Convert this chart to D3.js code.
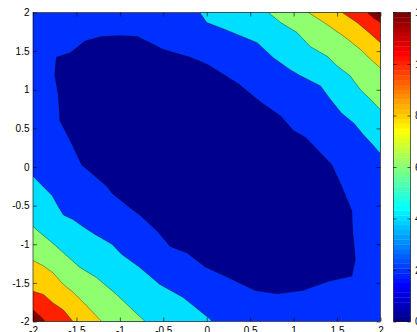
<!DOCTYPE html>
<html>
<head>
<meta charset="utf-8">
<script src="https://cdn.jsdelivr.net/npm/d3@7"></script>
<style>
    body { margin: 0; background: #fff; }
    svg { display: block; font-family: "Liberation Sans", Arial, Helvetica, sans-serif; }
    .axis text { font-size: 10px; fill: #000; }
    .axis line { stroke: #000; stroke-width: 0.6; }
    .axis path { display: none; }
</style>
</head>
<body>
<svg id="chart" width="417" height="332"></svg>
<script>
(function() {

    //  Tick values
    var xTicks = [-2, -1.5, -1, -0.5, 0, 0.5, 1, 1.5, 2];
    var yTicks = [-2, -1.5, -1, -0.5, 0, 0.5, 1, 1.5, 2];
    var cbTicks = [0, 2, 4, 6, 8, 10, 12];

    //  Contour levels
    var levels = [0, 2, 4, 6, 8, 10, 12];

    //  Contour lines, [x, y] points
    //  level 2 is a closed loop round the minimum
    var core2 = [[-1.73, 1.42], [-1.57, 1.48], [-1.40, 1.63], [-1.21, 1.69], [-1.00, 1.70], [-0.80, 1.69],
        [-0.50, 1.52], [-0.19, 1.42], [0.02, 1.32], [0.37, 1.07], [0.62, 0.84], [0.85, 0.66], [1.00, 0.47],
        [1.14, 0.38], [1.44, 0.03], [1.56, -0.27], [1.67, -0.57], [1.68, -0.83], [1.71, -1.20], [1.67, -1.41],
        [1.40, -1.48], [1.10, -1.60], [0.81, -1.64], [0.56, -1.60], [0.21, -1.41], [-0.02, -1.29], [-0.23, -1.11],
        [-0.42, -1.03], [-0.57, -0.83], [-0.77, -0.62], [-0.88, -0.53], [-1.09, -0.34], [-1.15, -0.25],
        [-1.44, 0.03], [-1.57, 0.34], [-1.69, 0.60], [-1.71, 0.94], [-1.75, 1.20]];

    //  upper right corner, top edge to right edge
    var ur4 = [[-0.08, 2.0], [0.00, 1.87], [0.21, 1.78], [0.58, 1.61], [0.77, 1.41], [0.96, 1.26], [1.08, 1.18],
        [1.31, 1.05], [1.42, 0.88], [1.55, 0.70], [1.70, 0.56], [1.80, 0.42], [1.90, 0.30], [2.0, 0.17]];
    var ur6 = [[0.71, 2.0], [0.85, 1.87], [1.04, 1.74], [1.19, 1.56], [1.39, 1.43], [1.50, 1.31], [1.65, 1.18],
        [1.77, 1.00], [1.89, 0.87], [2.0, 0.74]];
    var ur8 = [[1.17, 2.0], [1.35, 1.87], [1.58, 1.69], [1.77, 1.52], [1.89, 1.39], [2.0, 1.28]];
    var ur10 = [[1.56, 2.0], [1.73, 1.87], [1.89, 1.72], [2.0, 1.61]];
    var ur12 = [[1.85, 2.0], [1.92, 1.93], [2.0, 1.87]];

    //  lower left corner, left edge to bottom edge
    var ll4 = [[-2.0, -0.12], [-1.78, -0.37], [-1.69, -0.55], [-1.65, -0.62], [-1.54, -0.68], [-1.40, -0.79],
        [-1.29, -0.87], [-1.09, -1.00], [-0.98, -1.13], [-0.77, -1.30], [-0.54, -1.52], [-0.27, -1.69],
        [0.04, -1.97], [0.06, -2.0]];
    var ll6 = [[-2.0, -0.77], [-1.92, -0.85], [-1.80, -0.96], [-1.65, -1.11], [-1.46, -1.30], [-1.27, -1.43],
        [-1.04, -1.65], [-0.88, -1.82], [-0.71, -2.0]];
    var ll8 = [[-2.0, -1.21], [-1.88, -1.28], [-1.77, -1.37], [-1.65, -1.52], [-1.54, -1.62], [-1.38, -1.80],
        [-1.21, -2.0]];
    var ll10 = [[-2.0, -1.61], [-1.88, -1.65], [-1.77, -1.76], [-1.65, -1.85], [-1.54, -2.0]];
    var ll12 = [[-2.0, -1.85], [-1.90, -1.95], [-1.86, -2.0]];

    var upper = { 4: ur4, 6: ur6, 8: ur8, 10: ur10, 12: ur12 };
    var lower = { 4: ll4, 6: ll6, 8: ll8, 10: ll10, 12: ll12 };

    //  MATLAB jet(64) colormap
    function jetRow(k) {
        function u(i) {
            if (i < 1 || i > 47) return 0;
            if (i <= 16) return i / 16;
            if (i <= 31) return 1;
            return (48 - i) / 16;
        }
        return d3.rgb(u(k - 24) * 255, u(k - 8) * 255, u(k + 8) * 255);
    }

    var cmin = 0, cmax = 12;
    function levelColor(v) {
        var k = Math.min(64, Math.floor((v - cmin) / (cmax - cmin) * 64) + 1);
        return jetRow(k);
    }

    var svg = d3.select('#chart');

    //  scales
    var x = d3.scaleLinear().domain([-2, 2]).range([33, 380.5]);
    var y = d3.scaleLinear().domain([-2, 2]).range([321.5, 12.5]);
    var cb = d3.scaleLinear().domain([cmin, cmax]).range([321.5, 12.5]);

    var line = d3.line()
        .x(function (d) { return x(d[0]); })
        .y(function (d) { return y(d[1]); });

    svg.append('clipPath').attr('id', 'plotClip')
        .append('rect')
        .attr('x', x(-2)).attr('y', y(2))
        .attr('width', x(2) - x(-2)).attr('height', y(-2) - y(2));

    var plot = svg.append('g').attr('clip-path', 'url(#plotClip)');

    //  band between 2 and 4 fills the whole axes
    plot.append('rect')
        .attr('x', x(-2)).attr('y', y(2))
        .attr('width', x(2) - x(-2)).attr('height', y(-2) - y(2))
        .attr('fill', levelColor(2));

    //  corner bands, outermost drawn last
    levels.slice(2).forEach(function (lv) {
        plot.append('path')
            .attr('d', line(upper[lv].concat([[2, 2]])) + 'Z')
            .attr('fill', levelColor(lv));
        plot.append('path')
            .attr('d', line(lower[lv].concat([[-2, -2]])) + 'Z')
            .attr('fill', levelColor(lv));
    });

    plot.append('path')
        .attr('d', line(core2) + 'Z')
        .attr('fill', levelColor(0));

    //  contour lines
    var strokes = [core2.concat([core2[0]])];
    levels.slice(2).forEach(function (lv) {
        strokes.push(upper[lv]);
        strokes.push(lower[lv]);
    });
    plot.selectAll('path.contour')
        .data(strokes)
        .enter().append('path')
        .attr('class', 'contour')
        .attr('d', line)
        .attr('fill', 'none')
        .attr('stroke', '#000')
        .attr('stroke-opacity', 0.7)
        .attr('stroke-width', 0.5);

    //  axes, ticks pointing inward
    function fmt(d) { return String(d); }

    svg.append('g').attr('class', 'axis')
        .attr('transform', 'translate(0,' + y(-2) + ')')
        .call(d3.axisBottom(x).tickValues(xTicks).tickSize(-4).tickPadding(5).tickFormat(fmt));
    svg.append('g').attr('class', 'axis')
        .attr('transform', 'translate(0,' + y(2) + ')')
        .call(d3.axisTop(x).tickValues(xTicks).tickSize(-4).tickFormat(''));
    svg.append('g').attr('class', 'axis')
        .attr('transform', 'translate(' + x(-2) + ',0)')
        .call(d3.axisLeft(y).tickValues(yTicks).tickSize(-4).tickPadding(3.5).tickFormat(fmt));
    svg.append('g').attr('class', 'axis')
        .attr('transform', 'translate(' + x(2) + ',0)')
        .call(d3.axisRight(y).tickValues(yTicks).tickSize(-4).tickFormat(''));

    svg.append('rect')
        .attr('x', x(-2)).attr('y', y(2))
        .attr('width', x(2) - x(-2)).attr('height', y(-2) - y(2))
        .attr('fill', 'none').attr('stroke', '#000').attr('stroke-width', 0.6);

    //  Colorbar
    var cbLeft = 393.5, cbRight = 410.5;
    var rows = d3.range(1, 65);
    var rowH = (cb(cmin) - cb(cmax)) / 64;
    svg.append('g').selectAll('rect')
        .data(rows)
        .enter().append('rect')
        .attr('x', cbLeft)
        .attr('y', function (k) { return cb(cmin) - k * rowH; })
        .attr('width', cbRight - cbLeft)
        .attr('height', rowH + 0.3)
        .attr('fill', function (k) { return jetRow(k); });

    svg.append('g').attr('class', 'axis')
        .attr('transform', 'translate(' + cbRight + ',0)')
        .call(d3.axisRight(cb).tickValues(cbTicks).tickSize(-3).tickPadding(4.5).tickFormat(fmt));
    svg.append('g').attr('class', 'axis')
        .attr('transform', 'translate(' + cbLeft + ',0)')
        .call(d3.axisLeft(cb).tickValues(cbTicks).tickSize(-3).tickFormat(''));

    svg.append('rect')
        .attr('x', cbLeft).attr('y', cb(cmax))
        .attr('width', cbRight - cbLeft).attr('height', cb(cmin) - cb(cmax))
        .attr('fill', 'none').attr('stroke', '#000').attr('stroke-width', 0.6);

})();
</script>
</body>
</html>
